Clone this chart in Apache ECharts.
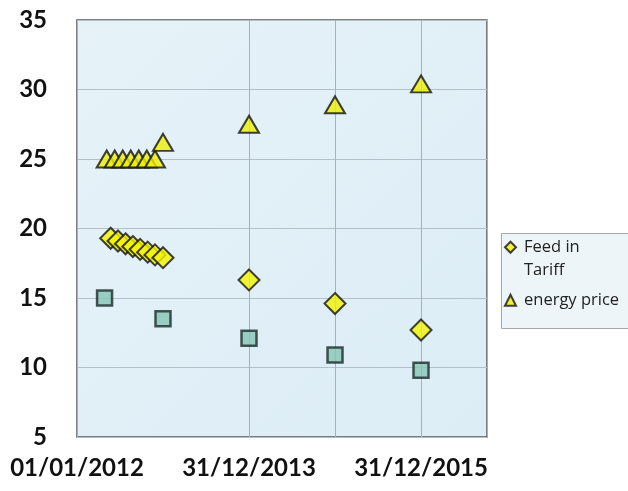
<!DOCTYPE html>
<html><head><meta charset="utf-8">
<script src="https://cdn.jsdelivr.net/npm/echarts@6/dist/echarts.min.js"></script>
<style>html,body{margin:0;padding:0;background:#fff}#c{width:628px;height:491px}</style>
</head><body><div id="c"></div>
<script>
// Feed in Tariff (diamonds)
const feedDates = ['23/05/2012','23/06/2012','25/07/2012','25/08/2012','25/09/2012','27/10/2012','27/11/2012','31/12/2012','31/12/2013','31/12/2014','31/12/2015'];
const feedValues = [19.3,19.1,18.9,18.7,18.5,18.3,18.1,17.9,16.3,14.6,12.7];
// energy price (triangles)
const priceDates = ['06/05/2012','09/06/2012','13/07/2012','16/08/2012','19/09/2012','23/10/2012','27/11/2012','31/12/2012','31/12/2013','31/12/2014','31/12/2015'];
const priceValues = [25,25,25,25,25,25,25,26.2,27.5,28.9,30.4];
// third series (squares, not in visible legend)
const thirdDates = ['27/04/2012','31/12/2012','31/12/2013','31/12/2014','31/12/2015'];
const thirdValues = [15.0,13.5,12.1,10.9,9.8];

const seriesNames = ['Feed in Tariff','energy price','series3'];
const axisStart = '01/01/2012';
const axisEndDays = 1740;

const MS = 86400000;
function parseD(s){const p=s.split('/').map(Number);return Date.UTC(p[2],p[1]-1,p[0]);}
const base = parseD(axisStart);
function toDay(s){return Math.round((parseD(s)-base)/MS);}
function fmt(v){const d=new Date(base+v*MS);const dd=String(d.getUTCDate()).padStart(2,'0');const mm=String(d.getUTCMonth()+1).padStart(2,'0');return dd+'/'+mm+'/'+d.getUTCFullYear();}
function pts(dates,vals){return dates.map((d,i)=>[toDay(d),vals[i]]);}

const chart = echarts.init(document.getElementById('c'));
const labelFont = {fontFamily:'Lato', fontWeight:'bold', fontSize:24, color:'#111'};
const gridColor = '#a6b1b8';
chart.setOption({
  animation:false,
  backgroundColor:'#fff',
  grid:{left:77, top:20, right:141, bottom:54, show:true,
    backgroundColor:new echarts.graphic.LinearGradient(0,0,1,1,[{offset:0,color:'#e6f2f8'},{offset:1,color:'#dcedf6'}]),
    borderColor:'#555', borderWidth:1.5},
  graphic:[{type:'rect', left:501, top:233, shape:{width:140, height:95},
    style:{fill:'#eef5f9', stroke:'#a8a8a8', lineWidth:1}, z:-1}],
  xAxis:[{type:'value', min:0, max:axisEndDays, interval:730,
    axisLine:{show:false}, axisTick:{show:false},
    axisLabel:Object.assign({margin:19, showMaxLabel:false, formatter:fmt}, labelFont),
    splitLine:{show:true, lineStyle:{color:gridColor, width:1}}},
   {type:'value', min:0, max:axisEndDays, interval:1095, position:'top',
    axisLine:{show:false}, axisTick:{show:false}, axisLabel:{show:false},
    splitLine:{show:true, lineStyle:{color:gridColor, width:1}}}],
  yAxis:{type:'value', min:5, max:35, interval:5,
    axisLine:{show:false}, axisTick:{show:false},
    axisLabel:Object.assign({margin:30}, labelFont),
    splitLine:{show:true, lineStyle:{color:'#b4c0c8', width:1}}},
  legend:{orient:'vertical', left:504, top:212, padding:0, itemGap:6,
    itemWidth:11, itemHeight:11,
    textStyle:{fontFamily:'Open Sans', fontSize:16.5, color:'#222', lineHeight:23.5, padding:[0,0,0,3]},
    formatter:function(n){return n==='Feed in Tariff'?'\u00a0\nFeed in\nTariff':n;},
    data:[seriesNames[0], seriesNames[1]]},
  series:[
    {name:seriesNames[2], type:'scatter', symbol:'rect', symbolSize:15, data:pts(thirdDates,thirdValues),
      itemStyle:{color:'#86c4b6', borderColor:'#1b2a2a', borderWidth:2.5}},
    {name:seriesNames[0], type:'scatter', symbol:'diamond', symbolSize:21, data:pts(feedDates,feedValues),
      itemStyle:{color:'#f4f400', borderColor:'#111', borderWidth:2}},
    {name:seriesNames[1], type:'scatter', symbol:'triangle', symbolSize:[20,17], data:pts(priceDates,priceValues),
      itemStyle:{color:'#eef000', borderColor:'#111', borderWidth:2}}
  ]
});
</script></body></html>
